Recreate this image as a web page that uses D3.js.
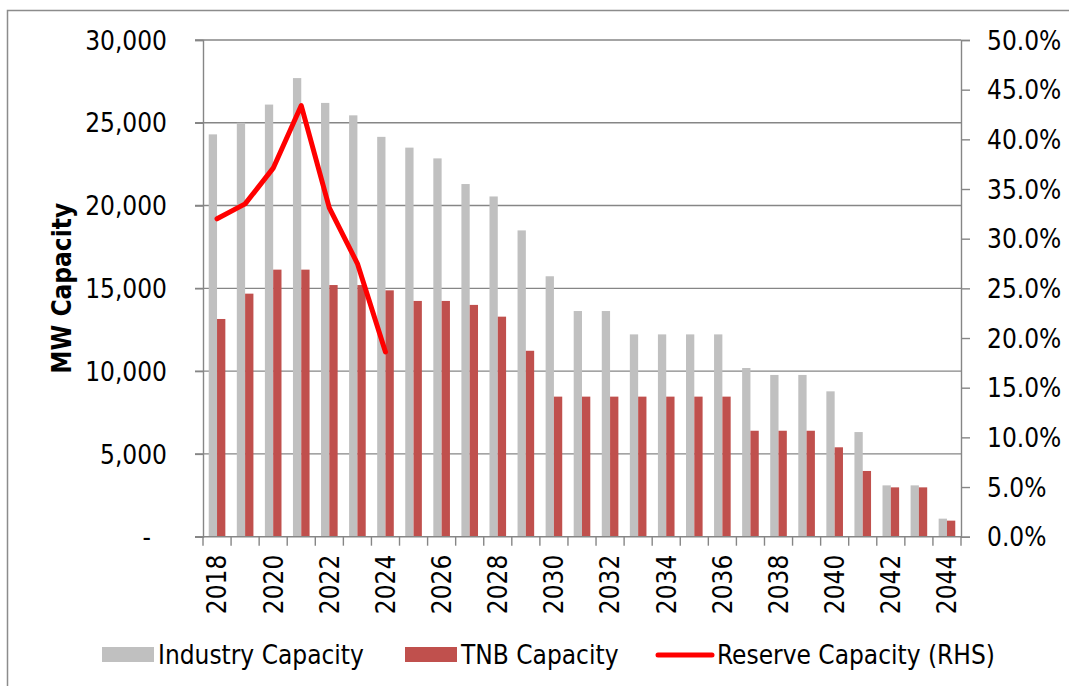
<!DOCTYPE html>
<html>
  <head>
    <meta charset="utf-8">
    <script src="https://d3js.org/d3.v7.min.js"></script>
    <style>
      body { margin: 0; background: #fff; }
      svg text { font-family: "DejaVu Sans Condensed", "DejaVu Sans", sans-serif; fill: #000; }
    </style>
  </head>
  <body>
    <script type="text/javascript">
      "use strict";

      // chart values
      var years = d3.range(2018, 2045).map(String);
      var industryCapacity = [24300, 25000, 26100, 27700, 26200, 25450, 24150, 23500, 22850, 21300,
                              20550, 18500, 15730, 13630, 13630, 12220, 12220, 12220, 12220, 10190,
                              9770, 9770, 8780, 6320, 3100, 3100, 1090];
      var tnbCapacity = [13150, 14680, 16130, 16130, 15200, 15200, 14880, 14240, 14240, 14000,
                         13290, 11230, 8460, 8460, 8460, 8460, 8460, 8460, 8460, 6400,
                         6400, 6400, 5400, 3970, 2980, 2980, 970];
      var reserveYears = ["2018", "2019", "2020", "2021", "2022", "2023", "2024"];
      var reserveCapacity = [0.320, 0.335, 0.371, 0.434, 0.331, 0.275, 0.186];
      var leftTicks = [0, 5000, 10000, 15000, 20000, 25000, 30000];
      var rightTicks = d3.range(0, 0.5001, 0.05);
      var legendLabels = ["Industry Capacity", "TNB Capacity", "Reserve Capacity (RHS)"];

      var W = 1069, H = 686;
      var plotLeft = 203, plotRight = 961, plotTop = 40, plotBottom = 536.7;
      var grey = "#c0c0c0", brick = "#c0504d", lineRed = "#ff0000", axisGrey = "#868686";
      var fs = "26px";

      var svg = d3.select("body").append("svg")
          .attr("width", W)
          .attr("height", H);

      // outer chart border (runs off the right and bottom edge)
      svg.append("rect")
          .attr("x", 7.5).attr("y", 10.5)
          .attr("width", W + 10).attr("height", H + 10)
          .attr("fill", "none")
          .attr("stroke", "#8c8c8c")
          .attr("stroke-width", 1.5);

      var x = d3.scaleBand().domain(years).range([plotLeft, plotRight]).paddingInner(0).paddingOuter(0);
      var xs = d3.scaleBand().domain(["ind", "tnb"]).range([0, x.bandwidth()]).paddingInner(0).paddingOuter(0.69);
      var y = d3.scaleLinear().domain([0, 30000]).range([plotBottom, plotTop]);
      var y2 = d3.scaleLinear().domain([0, 0.5]).range([plotBottom, plotTop]);

      // gridlines
      svg.append("g").selectAll("line")
        .data(leftTicks.filter(function (d) { return d > 0; }))
        .enter().append("line")
          .attr("x1", plotLeft - 8).attr("x2", plotRight)
          .attr("y1", function (d) { return y(d); })
          .attr("y2", function (d) { return y(d); })
          .attr("stroke", axisGrey)
          .attr("stroke-width", 1.4);

      // bars
      var groups = svg.append("g").selectAll("g")
        .data(years)
        .enter().append("g")
          .attr("transform", function (d) { return "translate(" + x(d) + ",0)"; });

      groups.append("rect")
          .attr("x", xs("ind"))
          .attr("width", xs.bandwidth())
          .attr("y", function (d, i) { return y(industryCapacity[i]); })
          .attr("height", function (d, i) { return plotBottom - y(industryCapacity[i]); })
          .attr("fill", grey);

      groups.append("rect")
          .attr("x", xs("tnb"))
          .attr("width", xs.bandwidth())
          .attr("y", function (d, i) { return y(tnbCapacity[i]); })
          .attr("height", function (d, i) { return plotBottom - y(tnbCapacity[i]); })
          .attr("fill", brick);

      // left axis
      var yAxis = d3.axisLeft(y)
          .tickValues(leftTicks)
          .tickSize(8)
          .tickPadding(28)
          .tickFormat(function (d) { return d === 0 ? "-" : d3.format(",")(d); });
      var gy = svg.append("g").attr("transform", "translate(" + plotLeft + ",0)").call(yAxis);
      gy.selectAll("text").style("font-size", fs).attr("dy", "0.35em");
      gy.selectAll(".tick").filter(function (d) { return d === 0; }).select("text").attr("dx", "-16px");

      // right axis
      var y2Axis = d3.axisRight(y2)
          .tickValues(rightTicks)
          .tickSize(9)
          .tickPadding(17)
          .tickFormat(d3.format(".1%"));
      var gy2 = svg.append("g").attr("transform", "translate(" + plotRight + ",0)").call(y2Axis);
      gy2.selectAll("text").style("font-size", fs).attr("dy", "0.35em");

      // bottom axis: ticks at category edges, labels every other year
      var gx = svg.append("g").attr("transform", "translate(0," + plotBottom + ")");
      gx.append("line")
          .attr("x1", plotLeft - 8).attr("x2", plotRight)
          .attr("stroke", axisGrey).attr("stroke-width", 1.4);
      gx.selectAll("line.edge")
        .data(years.concat(["end"]))
        .enter().append("line")
          .attr("class", "edge")
          .attr("x1", function (d) { return d === "end" ? plotRight : x(d); })
          .attr("x2", function (d) { return d === "end" ? plotRight : x(d); })
          .attr("y1", 0).attr("y2", 9)
          .attr("stroke", axisGrey).attr("stroke-width", 1.4);
      gx.selectAll("text")
        .data(years.filter(function (d, i) { return i % 2 === 0; }))
        .enter().append("text")
          .attr("transform", function (d) {
            return "translate(" + (x(d) + x.bandwidth() / 2) + ",18) rotate(-90)";
          })
          .attr("text-anchor", "end")
          .attr("dy", "0.36em")
          .style("font-size", fs)
          .text(function (d) { return d; });

      gy.select(".domain").attr("stroke", axisGrey).attr("stroke-width", 1.4);
      gy2.select(".domain").attr("stroke", axisGrey).attr("stroke-width", 1.4);
      svg.selectAll(".tick line").attr("stroke", axisGrey).attr("stroke-width", 1.4);

      // reserve capacity line
      var line = d3.line()
          .x(function (d) { return x(d) + x.bandwidth() / 2; })
          .y(function (d, i) { return y2(reserveCapacity[i]); });
      svg.append("path")
          .datum(reserveYears)
          .attr("d", line)
          .attr("fill", "none")
          .attr("stroke", lineRed)
          .attr("stroke-width", 5)
          .attr("stroke-linejoin", "round")
          .attr("stroke-linecap", "round");

      // axis title
      svg.append("text")
          .attr("transform", "translate(62," + ((plotTop + plotBottom) / 2) + ") rotate(-90)")
          .attr("text-anchor", "middle")
          .attr("dy", "0.35em")
          .style("font-size", "26px")
          .style("font-weight", "bold")
          .text("MW Capacity");

      // legend
      var legend = svg.append("g").attr("transform", "translate(0,655)");
      var legendX = [102, 405, 657];
      legendLabels.forEach(function (label, i) {
        var g = legend.append("g").attr("transform", "translate(" + legendX[i] + ",0)");
        if (i < 2) {
          g.append("rect")
              .attr("x", 0).attr("y", -8)
              .attr("width", 52).attr("height", 15)
              .attr("fill", i === 0 ? grey : brick);
        } else {
          g.append("line")
              .attr("x1", 1).attr("x2", 55)
              .attr("stroke", lineRed)
              .attr("stroke-width", 5)
              .attr("stroke-linecap", "round");
        }
        g.append("text")
            .attr("x", i < 2 ? 56 : 60)
            .attr("dy", "0.35em")
            .style("font-size", fs)
            .text(label);
      });
    </script>
  </body>
</html>
